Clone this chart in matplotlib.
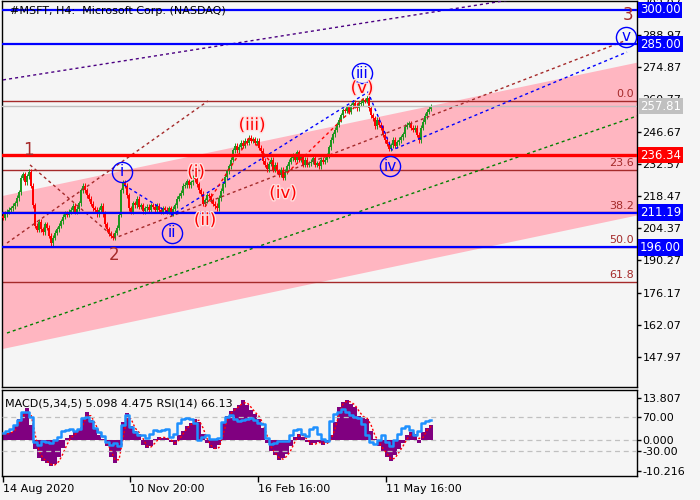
import matplotlib
matplotlib.use("Agg")
import matplotlib.pyplot as plt
import numpy as np
from matplotlib import patheffects as pe

plt.rcParams['font.family'] = ['DejaVu Sans']

# ---------------- data ----------------
first_open = 209.8
closes = [
    208.9, 210.6, 211.5, 212.4, 213.2, 214.1, 215.4, 217.6, 220.2, 226.4,
    228.1, 224.6, 227.2, 229.0, 222.9, 214.5, 205.4, 203.6, 207.1, 204.0,
    202.7, 206.2, 204.5, 201.0, 197.9, 200.1, 202.3, 204.0, 205.4, 207.5,
    209.3, 211.0, 210.2, 211.5, 212.4, 214.1, 211.5, 212.8, 215.4, 221.1,
    222.9, 221.1, 218.9, 217.2, 215.0, 213.2, 212.4, 210.6, 212.4, 214.1,
    210.6, 206.2, 204.0, 201.9, 201.0, 200.1, 202.3, 204.5, 210.2, 221.1,
    224.6, 222.9, 218.9, 213.2, 211.5, 215.4, 214.5, 217.2, 213.7, 214.5,
    211.9, 213.2, 213.7, 212.4, 214.5, 213.7, 212.4, 214.1, 212.4, 211.5,
    213.2, 212.4, 211.5, 213.2, 211.0, 212.8, 214.5, 217.2, 218.5, 219.8,
    222.9, 223.3, 225.0, 223.3, 224.6, 226.4, 225.9, 223.7, 221.1, 219.4,
    215.0, 216.7, 218.9, 218.5, 216.7, 215.0, 214.1, 213.2, 217.6, 220.7,
    223.7, 226.8, 229.4, 231.6, 234.3, 238.6, 240.4, 238.6, 240.0, 241.7,
    240.4, 242.6, 241.7, 243.9, 242.6, 243.4, 241.7, 242.6, 239.5, 238.2,
    233.8, 232.1, 230.3, 232.5, 234.3, 229.9, 232.1, 229.4, 227.7, 229.9,
    226.4, 229.0, 231.6, 233.4, 235.1, 236.4, 234.3, 237.7, 234.3, 235.6,
    232.1, 234.3, 232.1, 232.9, 233.4, 235.1, 232.1, 232.9, 231.6, 234.3,
    233.4, 234.3, 236.4, 239.9, 243.0, 245.6, 247.4, 249.6, 251.8, 253.9,
    256.1, 255.7, 257.4, 255.3, 258.3, 259.2, 257.9, 257.0, 258.8, 259.2,
    260.5, 260.1, 261.4, 257.0, 253.9, 252.6, 249.1, 251.8, 249.6, 248.3,
    245.2, 243.0, 241.3, 239.1, 240.8, 243.0, 240.4, 242.1, 243.0, 244.3,
    245.6, 248.7, 249.6, 250.4, 248.3, 247.4, 248.3, 245.2, 243.0, 248.3,
    250.9, 253.5, 255.3, 256.6, 257.81,
]

macd = [
    2.0, 2.2, 2.5, 4.5, 7.0, 9.0, 10.4, 5.0, -3.0, -6.0,
    -7.0, -7.5, -8.5, -8.0, -5.5, -2.5, 0.8, 1.5, 2.5, 3.5,
    7.0, 9.3, 6.5, 3.5, 1.5, 0.2, -2.0, -5.5, -7.5, -4.0,
    6.0, 9.0, 4.5, 3.0, 2.0, -1.5, -2.5, -2.0, 0.3, 1.0,
    0.8, 0.5, -0.5, -1.5, 1.5, 3.0, 4.5, 5.5, 7.0, 6.0,
    2.0, -1.0, -2.5, -3.0, -1.5, 5.5, 8.0, 9.5, 10.5, 11.5,
    13.0, 11.5, 10.0, 8.5, 7.0, 4.0, -1.0, -3.5, -5.0, -6.5,
    -6.0, -4.5, -2.0, 1.0, 2.0, 1.0, -0.5, -1.8, -1.0, -0.5,
    -1.5, -1.0, 1.5, 6.0, 11.0, 12.5, 13.0, 12.0, 11.0, 8.0,
    7.5, 7.0, 3.0, 0.3, -2.0, -3.5, -5.5, -7.0, -5.0, -3.0,
    -1.0, 1.5, 2.5, 2.0, -1.0, 2.5, 4.0, 5.098,
]
signal = [
    1.8, 2.0, 2.3, 3.2, 5.5, 7.8, 9.5, 8.5, 2.0, -3.5,
    -6.0, -7.0, -8.0, -8.2, -7.0, -4.5, -1.5, 0.8, 1.8, 3.0,
    5.0, 8.0, 8.0, 5.5, 2.8, 1.0, -0.8, -3.5, -6.5, -6.5,
    0.5, 7.0, 7.0, 4.0, 2.5, 0.5, -2.0, -2.3, -1.0, 0.5,
    0.9, 0.7, 0.0, -1.0, 0.0, 2.0, 3.8, 5.0, 6.2, 6.5,
    4.0, 0.5, -1.8, -2.8, -2.5, 1.5, 6.5, 8.8, 10.0, 11.0,
    12.2, 12.3, 10.8, 9.2, 7.8, 5.5, 1.5, -2.2, -4.2, -5.8,
    -6.3, -5.3, -3.3, -0.5, 1.5, 1.5, 0.3, -1.2, -1.4, -0.8,
    -1.0, -1.2, 0.2, 3.5, 8.5, 11.8, 12.8, 12.5, 11.5, 9.5,
    7.8, 7.2, 5.0, 1.5, -0.8, -2.8, -4.5, -6.3, -6.0, -4.0,
    -2.0, 0.3, 2.0, 2.3, 0.5, 0.8, 3.2, 4.475,
]
rsi = [
    50.8, 53.0, 55.0, 60.0, 66.0, 76.0, 75.0, 70.0, 40.0, 37.0,
    41.0, 40.0, 39.0, 43.0, 46.0, 52.7, 54.0, 55.0, 53.0, 56.0,
    68.0, 70.0, 65.0, 57.0, 52.0, 47.0, 40.0, 37.0, 39.0, 35.5,
    60.0, 72.0, 58.0, 52.0, 49.0, 48.0, 45.0, 50.0, 54.0, 53.0,
    54.0, 55.0, 46.0, 50.0, 62.0, 67.0, 68.0, 67.0, 63.0, 43.0,
    46.0, 49.0, 44.0, 44.0, 45.0, 64.0, 70.0, 72.0, 67.0, 65.0,
    66.0, 67.0, 68.0, 66.0, 63.0, 61.0, 45.0, 38.0, 39.0, 41.0,
    41.0, 41.0, 48.0, 54.0, 55.0, 50.0, 47.0, 55.0, 58.0, 50.0,
    44.0, 41.0, 65.0, 73.0, 76.0, 79.0, 76.0, 72.0, 70.0, 68.0,
    61.0, 48.0, 40.0, 37.5, 42.0, 48.0, 40.0, 35.0, 42.0, 50.0,
    56.5, 58.6, 54.0, 49.0, 53.0, 62.0, 65.0, 66.13,
]

date_labels = ['14 Aug 2020', '10 Nov 20:00', '16 Feb 16:00', '11 May 16:00']
date_bars = [0, 63.5, 127.5, 191.5]

price_ticks = [147.97, 162.07, 176.17, 190.27, 204.37, 218.47, 232.57,
               246.67, 260.77, 274.87, 288.97, 303.07]
price_tick_labels = ['147.97', '162.07', '176.17', '190.27', '204.37', '218.47',
                     '232.57', '246.67', '260.77', '274.87', '288.97', '302.97']

level_prices = [300.00, 285.00, 257.81, 236.34, 211.19, 196.00]
level_colors = ['#0000FF', '#0000FF', '#C0C0C0', '#FF0000', '#0000FF', '#0000FF']
level_widths = [1.6, 1.6, 1.0, 2.4, 1.6, 1.6]

fib_names = ['0.0', '23.6', '38.2', '50.0', '61.8']
fib_prices = [260.2, 230.0, 211.5, 196.3, 181.0]

channel_bars = [-0.5, 317]
channel_upper = [218.7, 277.1]
channel_lower = [151.7, 210.2]

purple_bars, purple_prices = [0, 317], [269.3, 313.1]
green_bars, green_prices = [2, 317], [158.5, 253.5]
brownA_bars, brownA_prices = [2, 102.5], [197.9, 260.1]
brownB_bars, brownB_prices = [13.5, 56, 312], [232.1, 200.1, 286.8]
blue_bars, blue_prices = [60.5, 84.5, 182.5, 194.5, 312], [223.3, 210.2, 264.0, 238.6, 281.5]
red_bars, red_prices = [101, 123.5, 140, 181], [213.7, 244.3, 226.8, 261.8]

major_labels = ['1', '2', '3']
major_bars = [12.5, 55.5, 312.5]
major_prices = [238.6, 192.6, 297.7]

minor_labels = ['i', 'ii', 'iii', 'iv', 'v']
minor_bars = [59.5, 84.5, 179.5, 193.5, 311.5]
minor_prices = [229.0, 202.3, 272.3, 231.6, 288.1]

sub_labels = ['(i)', '(ii)', '(iii)', '(iv)', '(v)']
sub_bars = [96.5, 101, 124.5, 140, 179.5]
sub_prices = [229.0, 208.0, 249.6, 219.8, 265.8]

# ---------------- figure ----------------
BG = '#F5F5F5'
BROWN = '#A52A2A'
WICK = 1.1  # visual wick length beyond the body (style only)
W, H = 700, 500
fig = plt.figure(figsize=(7, 5), dpi=100, facecolor=BG)
ax = fig.add_axes([2 / W, 1 - 387 / H, 635 / W, 386 / H], facecolor=BG)
ax2 = fig.add_axes([2 / W, 1 - 476 / H, 635 / W, 86 / H], facecolor=BG)

for a in (ax, ax2):
    for s in a.spines.values():
        s.set_color('black')
        s.set_linewidth(1.0)

ax.set_xlim(-0.5, 317)
ax.set_ylim(134.86, 303.85)

# channel
ax.fill_between(channel_bars, channel_lower, channel_upper, color='#FFB6C1',
                lw=0, zorder=1)

# fib lines
for nm, p in zip(fib_names, fib_prices):
    ax.axhline(p, color=BROWN, lw=1.0, zorder=2)
    ax.text(315.5, p + 0.6, nm, color=BROWN, fontsize=8, ha='right', va='bottom',
            zorder=6)

# candles
opens = [first_open] + closes[:-1]
idx = np.arange(len(closes))
o = np.array(opens)
c = np.array(closes)
up = c >= o
bottoms = np.minimum(o, c)
tops = np.maximum(o, c)
heights = np.maximum(tops - bottoms, 0.35)
for mask, col in ((up, '#1F961F'), (~up, '#FF0000')):
    ax.vlines(idx[mask], bottoms[mask] - WICK, tops[mask] + WICK, color=col,
              lw=0.7, zorder=3)
    ax.bar(idx[mask], heights[mask], bottom=bottoms[mask], width=0.7, color=col,
           lw=0, zorder=3)

# trend lines
dot = (0, (2.2, 2.2))
ax.plot(purple_bars, purple_prices, color='#4B0082', lw=1, ls=dot, zorder=4)
ax.plot(green_bars, green_prices, color='#008000', lw=1, ls=dot, zorder=4)
ax.plot(brownA_bars, brownA_prices, color=BROWN, lw=1, ls=dot, zorder=4)
ax.plot(brownB_bars, brownB_prices, color=BROWN, lw=1, ls=dot, zorder=4)
ax.plot(blue_bars, blue_prices, color='#0000FF', lw=1, ls=dot, zorder=4)
ax.plot(red_bars, red_prices, color='#FF0000', lw=1, ls=dot, zorder=4)

# horizontal levels
for p, col, lw in zip(level_prices, level_colors, level_widths):
    ax.axhline(p, color=col, lw=lw, zorder=5)

# price axis
ax.yaxis.tick_right()
ax.set_yticks(price_ticks)
ax.set_yticklabels(price_tick_labels)
ax.tick_params(axis='y', length=3, width=1, pad=1, labelsize=8, colors='black')
ax.set_xticks([])

for p, col in zip(level_prices, level_colors):
    ax.annotate(f'{p:.2f}', xy=(1, p), xycoords=('axes fraction', 'data'),
                xytext=(3, 0), textcoords='offset pixels', ha='left', va='center',
                fontsize=8.5, color='white', zorder=10, annotation_clip=False,
                bbox=dict(boxstyle='square,pad=0.15', fc=col, ec='none'))

# wave labels
for t, x, y in zip(major_labels, major_bars, major_prices):
    ax.text(x, y, t, color=BROWN, fontsize=12, ha='center', va='center', zorder=7)
ax.plot(minor_bars, minor_prices, 'o', ms=14.5, mfc='none', mec='#0000FF',
        mew=1.0, zorder=7)
for t, x, y in zip(minor_labels, minor_bars, minor_prices):
    ax.text(x, y, t, color='#0000FF', fontsize=11, ha='center', va='center', zorder=7)
for t, x, y in zip(sub_labels, sub_bars, sub_prices):
    ax.text(x, y, t, color='#FF0000', fontsize=12, ha='center', va='center', zorder=7,
            path_effects=[pe.withStroke(linewidth=2, foreground='#FFE0E0')])

fig.text(10 / W, 1 - 11 / H, '#MSFT, H4:  Microsoft Corp. (NASDAQ)', fontsize=8,
         ha='left', va='center', color='black', zorder=1)

# ---------------- MACD / RSI panel ----------------
ax2.set_xlim(-0.5, 317)
ax2.set_ylim(-11.84, 16.45)
midx = np.arange(len(macd)) * 2
ax2.axhline(0, color='#C0C0C0', lw=0.9, ls=(0, (4, 3)), zorder=1)
ax2.bar(midx, macd, width=2.0, color='#800080', lw=0, zorder=2)
ax2.plot(midx, signal, color='#FF0000', lw=1, ls=(0, (1.5, 1.5)), zorder=3)

ax3 = ax2.twinx()
ax3.set_ylim(0.24, 101.4)
ax3.axhline(70, color='#C0C0C0', lw=0.9, ls=(0, (4, 3)), zorder=1)
ax3.axhline(30, color='#C0C0C0', lw=0.9, ls=(0, (4, 3)), zorder=1)
ax3.plot(midx, rsi, color='#1E90FF', lw=1.8, zorder=4, drawstyle='steps-mid')
for s in ax3.spines.values():
    s.set_visible(False)

ax2.yaxis.tick_right()
ax2.set_yticks([13.807, 0.0, -10.216])
ax2.set_yticklabels(['13.807', '0.000', '-10.216'])
ax2.tick_params(axis='y', length=3, width=1, pad=1, labelsize=8)
ax3.set_yticks([70, 30])
ax3.set_yticklabels(['70.00', '-30.00'])
ax3.tick_params(axis='y', length=3, width=1, pad=1, labelsize=8)

ax2.set_xticks(date_bars)
ax2.set_xticklabels(date_labels, ha='left')
ax2.tick_params(axis='x', length=4, width=1, pad=2, labelsize=8)

fig.text(5 / W, 1 - 403 / H, 'MACD(5,34,5) 5.098 4.475 RSI(14) 66.13', fontsize=8,
         ha='left', va='center', color='black', zorder=10)

fig.savefig('out.png', dpi=100, facecolor=BG)
